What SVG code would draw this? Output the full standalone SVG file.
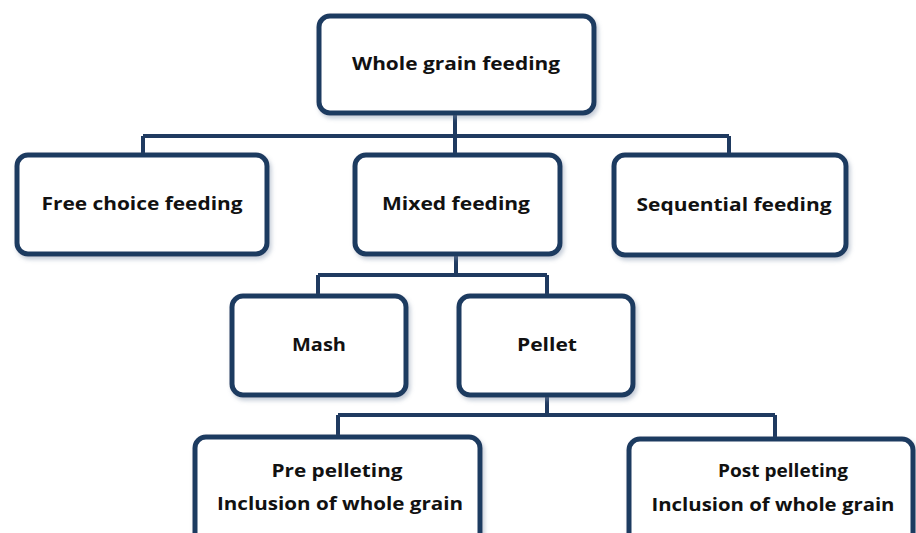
<svg xmlns="http://www.w3.org/2000/svg" width="916" height="533" viewBox="0 0 916 533">
<style>
.box{fill:#ffffff;stroke:#1f3a60;stroke-width:5}
.conn{fill:none;stroke:#1f3a60;stroke-width:4}
.t{font-family:"Open Sans","Liberation Sans",sans-serif;font-weight:bold;font-size:17px;fill:#111111;text-anchor:middle}
</style>
<defs>
<filter id="sh" x="-10%" y="-10%" width="125%" height="130%">
<feDropShadow dx="2" dy="3" stdDeviation="2" flood-color="#7a8ea8" flood-opacity="0.45"/>
</filter>
</defs>
<rect width="916" height="533" fill="#ffffff"/>
<g id="connectors">
<path class="conn" d="M455,113 V136 M143,136 H729 M143,136 V155 M455,136 V155 M729,136 V155"/>
<path class="conn" d="M456,255 V275 M318,275 H547 M318,275 V296 M547,275 V296"/>
<path class="conn" d="M547,397 V415 M338,415 H775 M338,415 V437 M775,415 V439"/>
</g>
<g id="whole">
<rect class="box" filter="url(#sh)" x="319" y="16" width="275" height="97" rx="11"/>
<text class="t" x="456" y="70" textLength="208" lengthAdjust="spacingAndGlyphs">Whole grain feeding</text>
</g>
<g id="free">
<rect class="box" filter="url(#sh)" x="17" y="155" width="250" height="99" rx="11"/>
<text class="t" x="142" y="210" textLength="201" lengthAdjust="spacingAndGlyphs">Free choice feeding</text>
</g>
<g id="mixed">
<rect class="box" filter="url(#sh)" x="355" y="155" width="205" height="99" rx="11"/>
<text class="t" x="456" y="210" textLength="148" lengthAdjust="spacingAndGlyphs">Mixed feeding</text>
</g>
<g id="sequential">
<rect class="box" filter="url(#sh)" x="614" y="155" width="232" height="100" rx="11"/>
<text class="t" x="734" y="211" textLength="195" lengthAdjust="spacingAndGlyphs">Sequential feeding</text>
</g>
<g id="mash">
<rect class="box" filter="url(#sh)" x="232" y="296" width="174" height="99" rx="11"/>
<text class="t" x="319" y="351" textLength="54" lengthAdjust="spacingAndGlyphs">Mash</text>
</g>
<g id="pellet">
<rect class="box" filter="url(#sh)" x="459" y="296" width="174" height="99" rx="11"/>
<text class="t" x="547" y="351" textLength="60" lengthAdjust="spacingAndGlyphs">Pellet</text>
</g>
<g id="pre">
<rect class="box" filter="url(#sh)" x="195" y="437" width="285" height="110" rx="11"/>
<text class="t" x="337" y="477" textLength="131" lengthAdjust="spacingAndGlyphs">Pre pelleting</text>
<text class="t" x="340" y="510" textLength="246" lengthAdjust="spacingAndGlyphs">Inclusion of whole grain</text>
</g>
<g id="post">
<rect class="box" filter="url(#sh)" x="629" y="439" width="284" height="110" rx="11"/>
<text class="t" x="783" y="477" textLength="130" lengthAdjust="spacingAndGlyphs">Post pelleting</text>
<text class="t" x="773" y="511" textLength="243" lengthAdjust="spacingAndGlyphs">Inclusion of whole grain</text>
</g>
</svg>
